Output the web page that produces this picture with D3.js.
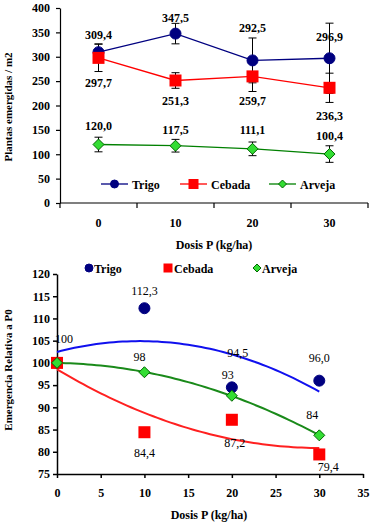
<!DOCTYPE html>
<html><head><meta charset="utf-8">
<script src="https://cdn.jsdelivr.net/npm/d3@7"></script>
<style>
html,body{margin:0;padding:0;background:#fff;}
</style></head>
<body>
<svg id="c" width="381" height="524" font-family="Liberation Serif"></svg>
<script>
// ---------- data ----------
const doses = ["0", "10", "20", "30"];
const trigo = [309.4, 347.5, 292.5, 296.9];
const trigoErr = [17, 21, 46, 72];
const cebada = [297.7, 251.3, 259.7, 236.3];
const cebadaErr = [28, 16, 31, 30];
const arveja = [120.0, 117.5, 111.1, 100.4];
const arvejaErr = [15, 13, 14, 17];
const topYTicks = [0, 50, 100, 150, 200, 250, 300, 350, 400];

const doseNum = [0, 10, 20, 30];
const relTrigo = [100, 112.3, 94.5, 96.0];
const relCebada = [100, 84.4, 87.2, 79.4];
const relArveja = [100, 97.9, 92.6, 83.7];
const relTrigoLbl = ["", "112,3", "94,5", "96,0"];
const relCebadaLbl = ["100", "84,4", "87,2", "79,4"];
const relArvejaLbl = ["", "98", "93", "84"];
const botYTicks = [75, 80, 85, 90, 95, 100, 105, 110, 115, 120];
const botXTicks = [0, 5, 10, 15, 20, 25, 30, 35];

// ---------- layout (label offsets) ----------
const topLblDy = {Trigo: [-13, -12, -28, -17], Cebada: [29, 25, 29, 32], Arveja: [-15, -12, -15, -14]};
const botLblOff = {
  Trigo: [[0, 0], [0, -13], [6, -30], [0, -19]],
  Cebada: [[7, -20], [0, 25], [3, 27], [9, 17]],
  Arveja: [[0, 0], [-5, -11], [-4, -17], [-7, -16]]
};

const FONT = "'Liberation Serif', 'Times New Roman', serif";
const fmt = v => d3.format(".1f")(v).replace(".", ",");
const svg = d3.select("#c");

const C = {
  Trigo: {line: "#000080", fill: "#000080", stroke: "#000080", trend: "#1010ee"},
  Cebada: {line: "#ff0000", fill: "#ff0000", stroke: "#ff0000", trend: "#ff2020"},
  Arveja: {line: "#008000", fill: "#33dd33", stroke: "#006600", trend: "#1a8a1a"}
};

function marker(g, type, x, y, s) {
  const c = C[type];
  if (type === "Trigo") {
    g.append("circle").attr("cx", x).attr("cy", y).attr("r", s / 2).attr("fill", c.fill).attr("stroke", c.stroke);
  } else if (type === "Cebada") {
    g.append("rect").attr("x", x - s / 2).attr("y", y - s / 2).attr("width", s).attr("height", s).attr("fill", c.fill);
  } else {
    const h = s / 2;
    g.append("path").attr("d", `M${x},${y - h}L${x + h},${y}L${x},${y + h}L${x - h},${y}Z`)
      .attr("fill", c.fill).attr("stroke", c.stroke).attr("stroke-width", 1);
  }
}

// ================= TOP CHART =================
const tx = d3.scaleBand().domain(doses).range([60, 368]);
const ty = d3.scaleLinear().domain([0, 400]).range([203, 8]);
const gTop = svg.append("g");

const yAx = gTop.append("g").attr("transform", "translate(60,0)")
  .call(d3.axisLeft(ty).tickValues(topYTicks).tickSize(4).tickPadding(6).tickSizeOuter(0));
const xAx = gTop.append("g").attr("transform", "translate(0,203)")
  .call(d3.axisBottom(tx).tickSize(0).tickPadding(15).tickSizeOuter(0));
xAx.select(".domain").attr("d", "M60,0H368");
[...doses.map(d => tx(d)), 368].forEach(px => {
  xAx.append("line").attr("x1", px).attr("x2", px).attr("y1", 0).attr("y2", 5).attr("stroke", "#000");
});
[yAx, xAx].forEach(a => {
  a.attr("font-family", null);
  a.selectAll("text").attr("font-size", 12).attr("font-weight", "bold").attr("fill", "#000");
  a.selectAll("path,line").attr("stroke", "#000").attr("stroke-width", 1.2);
});

const topSeries = [
  {name: "Trigo", v: trigo, e: trigoErr, size: 11},
  {name: "Cebada", v: cebada, e: cebadaErr, size: 12},
  {name: "Arveja", v: arveja, e: arvejaErr, size: 11}
];
const cx = d => tx(d) + tx.bandwidth() / 2;

topSeries.forEach(s => {
  s.v.forEach((v, i) => {
    const x = cx(doses[i]);
    const y1 = ty(v + s.e[i]), y2 = ty(v - s.e[i]);
    gTop.append("line").attr("x1", x).attr("x2", x).attr("y1", y1).attr("y2", y2).attr("stroke", "#000").attr("stroke-width", 1);
    [y1, y2].forEach(yy => gTop.append("line").attr("x1", x - 4).attr("x2", x + 4).attr("y1", yy).attr("y2", yy).attr("stroke", "#000").attr("stroke-width", 1));
  });
});
topSeries.forEach(s => {
  gTop.append("path").datum(s.v)
    .attr("d", d3.line().x((d, i) => cx(doses[i])).y(d => ty(d)))
    .attr("fill", "none").attr("stroke", C[s.name].line).attr("stroke-width", 1.3);
});
topSeries.forEach(s => {
  s.v.forEach((v, i) => marker(gTop, s.name, cx(doses[i]), ty(v), s.size));
});
topSeries.forEach(s => {
  s.v.forEach((v, i) => {
    gTop.append("text").attr("x", cx(doses[i])).attr("y", ty(v) + topLblDy[s.name][i])
      .attr("text-anchor", "middle").attr("font-size", 12).attr("font-weight", "bold").text(fmt(v));
  });
});
const topLeg = [{name: "Trigo", x: 101}, {name: "Cebada", x: 180}, {name: "Arveja", x: 269}];
topLeg.forEach(l => {
  const y = 184;
  gTop.append("line").attr("x1", l.x).attr("x2", l.x + 27).attr("y1", y).attr("y2", y).attr("stroke", C[l.name].line).attr("stroke-width", 1.3);
  marker(gTop, l.name, l.x + 13.5, y, l.name === "Cebada" ? 10 : 8);
  gTop.append("text").attr("x", l.x + 31).attr("y", y + 4.5).attr("font-size", 12).attr("font-weight", "bold").text(l.name);
});
gTop.append("text").attr("x", 214).attr("y", 249).attr("text-anchor", "middle").attr("font-size", 12).attr("font-weight", "bold").text("Dosis P (kg/ha)");
gTop.append("text").attr("transform", "translate(12,107) rotate(-90)").attr("text-anchor", "middle").attr("font-size", 11).attr("font-weight", "bold").text("Plantas emergidas / m2");

// ================= BOTTOM CHART =================
const bx = d3.scaleLinear().domain([0, 35]).range([57, 363]);
const by = d3.scaleLinear().domain([75, 120]).range([474, 274]);
const gBot = svg.append("g");

const byAx = gBot.append("g").attr("transform", "translate(57,0)")
  .call(d3.axisLeft(by).tickValues(botYTicks).tickSize(4).tickPadding(3).tickSizeOuter(0));
const bxAx = gBot.append("g").attr("transform", "translate(0,474)")
  .call(d3.axisBottom(bx).tickValues(botXTicks).tickSize(4).tickPadding(10).tickSizeOuter(0));
[byAx, bxAx].forEach(a => {
  a.attr("font-family", null);
  a.selectAll("text").attr("font-size", 12).attr("font-weight", "bold").attr("fill", "#000");
  a.selectAll("path,line").attr("stroke", "#000").attr("stroke-width", 1.5);
});

function quadFit(xs, ys) {
  let S = [0, 0, 0, 0, 0], T = [0, 0, 0];
  xs.forEach((x, i) => {
    for (let k = 0; k < 5; k++) S[k] += Math.pow(x, k);
    for (let k = 0; k < 3; k++) T[k] += ys[i] * Math.pow(x, k);
  });
  const A = [[S[0], S[1], S[2], T[0]], [S[1], S[2], S[3], T[1]], [S[2], S[3], S[4], T[2]]];
  for (let i = 0; i < 3; i++) {
    for (let j = i + 1; j < 3; j++) {
      const f = A[j][i] / A[i][i];
      for (let k = i; k < 4; k++) A[j][k] -= f * A[i][k];
    }
  }
  const c = [0, 0, 0];
  for (let i = 2; i >= 0; i--) {
    let s = A[i][3];
    for (let k = i + 1; k < 3; k++) s -= A[i][k] * c[k];
    c[i] = s / A[i][i];
  }
  return x => c[0] + c[1] * x + c[2] * x * x;
}

const botSeries = [
  {name: "Trigo", v: relTrigo, lbl: relTrigoLbl, size: 11},
  {name: "Cebada", v: relCebada, lbl: relCebadaLbl, size: 12},
  {name: "Arveja", v: relArveja, lbl: relArvejaLbl, size: 11}
];
const xs = d3.range(0, 30.01, 0.5);
botSeries.forEach(s => {
  const f = quadFit(doseNum, s.v);
  gBot.append("path").datum(xs)
    .attr("d", d3.line().x(d => bx(d)).y(d => by(f(d))))
    .attr("fill", "none").attr("stroke", C[s.name].trend).attr("stroke-width", 2);
});
botSeries.forEach(s => {
  s.v.forEach((v, i) => marker(gBot, s.name, bx(doseNum[i]), by(v), s.size));
});
botSeries.forEach(s => {
  s.v.forEach((v, i) => {
    if (!s.lbl[i]) return;
    const o = botLblOff[s.name][i];
    gBot.append("text").attr("x", bx(doseNum[i]) + o[0]).attr("y", by(v) + o[1])
      .attr("text-anchor", "middle").attr("font-size", 12).text(s.lbl[i]);
  });
});
const botLeg = [{name: "Trigo", x: 89}, {name: "Cebada", x: 168}, {name: "Arveja", x: 257}];
botLeg.forEach(l => {
  const y = 268;
  marker(gBot, l.name, l.x, y, l.name === "Cebada" ? 9 : 8);
  gBot.append("text").attr("x", l.x + (l.name === "Cebada" ? 6 : 5)).attr("y", y + 4.5).attr("font-size", 12).attr("font-weight", "bold").text(l.name);
});
gBot.append("text").attr("x", 209).attr("y", 519).attr("text-anchor", "middle").attr("font-size", 12).attr("font-weight", "bold").text("Dosis P (kg/ha)");
gBot.append("text").attr("transform", "translate(12,370) rotate(-90)").attr("text-anchor", "middle").attr("font-size", 11).attr("font-weight", "bold").text("Emergencia Relativa a P0");

svg.selectAll("text").style("font-family", FONT);
</script>
</body></html>
